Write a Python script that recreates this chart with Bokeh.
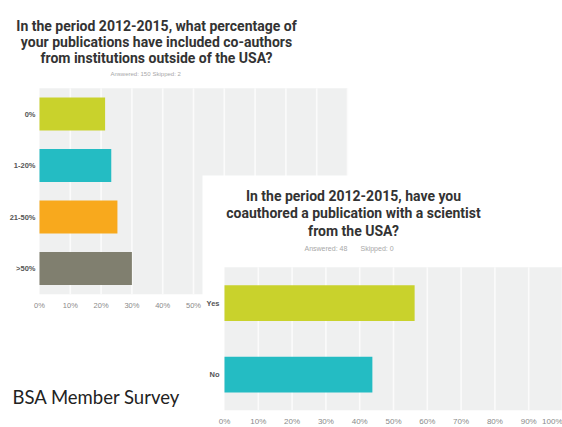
from bokeh.plotting import figure
from bokeh.models import Range1d
from bokeh.core.properties import value
from bokeh.embed import file_html
from bokeh.resources import INLINE

# ---------------- data ----------------
q1_title = ["In the period 2012-2015, what percentage of",
            "your publications have included co-authors",
            "from institutions outside of the USA?"]
q1_answered = "Answered: 150"
q1_skipped = "Skipped: 2"
q1_categories = ["0%", "1-20%", "21-50%", ">50%"]
q1_values = [21.3, 23.3, 25.3, 30.0]

q2_title = ["In the period 2012-2015, have you",
            "coauthored a publication with a scientist",
            "from the USA?"]
q2_answered = "Answered: 48"
q2_skipped = "Skipped: 0"
q2_categories = ["Yes", "No"]
q2_values = [56.25, 43.75]

pct_ticks = [0, 10, 20, 30, 40, 50, 60, 70, 80, 90, 100]
pct_labels = ["0%", "10%", "20%", "30%", "40%", "50%", "60%", "70%", "80%", "90%", "100%"]
caption = "BSA Member Survey"

# ---------------- styles ----------------
palette = ["#c9d22c", "#24bcc3", "#f8a91d", "#807f6f"]
PLOT_BG = "#eff0f0"
GRID = "#fbfbfb"
TITLE_COLOR = "#333333"
TITLE_FONT = value("Roboto")
SANS = value("Liberation Sans")

W, H = 562, 427


def xr(px0, scale):
    return Range1d(start=(0 - px0) / scale, end=(W - px0) / scale)


def yr(py0, scale):
    return Range1d(start=(H - py0) / scale, end=(0 - py0) / scale)


p = figure(width=W, height=H, output_backend="svg", toolbar_location=None,
           x_range=Range1d(0, W), y_range=Range1d(H, 0),
           x_axis_type=None, y_axis_type=None, min_border=0,
           outline_line_color=None, background_fill_color="white",
           border_fill_color="white")
p.grid.visible = False

p.extra_x_ranges = {"x1": xr(39, 3.08), "x2": xr(224, 3.38)}
p.extra_y_ranges = {"y1": yr(113.5, 51.5), "y2": yr(302.5, 71.5)}


def draw_chart(xn, yn, cats, vals, colors, bar_h, cat_off, tick_off, cat_size,
               tick_size, last_right):
    n = len(cats)
    idx = list(range(n))
    p.quad(left=0, right=100, top=-0.5, bottom=n - 0.5, x_range_name=xn,
           y_range_name=yn, fill_color=PLOT_BG, line_color=None)
    p.segment(x0=pct_ticks[1:], x1=pct_ticks[1:], y0=-0.5, y1=n - 0.5,
              x_range_name=xn, y_range_name=yn, line_color=GRID, line_width=1.6)
    p.hbar(y=idx, left=0, right=vals, height=bar_h, fill_color=colors,
           line_color=None, x_range_name=xn, y_range_name=yn)
    p.text(x=0, y=idx, text=cats, x_offset=cat_off, text_align="right",
           text_baseline="middle", text_font=SANS, text_font_style="bold",
           text_font_size=cat_size, text_color="#555555",
           x_range_name=xn, y_range_name=yn)
    t, lab = pct_ticks, pct_labels
    if last_right:
        t, lab = pct_ticks[:-1], pct_labels[:-1]
        p.text(x=pct_ticks[-1:], y=n - 0.5, text=pct_labels[-1:], y_offset=tick_off,
               text_align="right", text_baseline="middle", text_font=SANS,
               text_font_size=tick_size, text_color="#8a8a8a",
               x_range_name=xn, y_range_name=yn)
    p.text(x=t, y=n - 0.5, text=lab, y_offset=tick_off,
           text_align="center", text_baseline="middle", text_font=SANS,
           text_font_size=tick_size, text_color="#8a8a8a",
           x_range_name=xn, y_range_name=yn)


def draw_title(lines, cx, baselines, size):
    p.text(x=[cx] * len(lines), y=baselines, text=lines,
           text_align="center", text_baseline="alphabetic", text_font=TITLE_FONT,
           text_font_style="bold", text_font_size=size, text_color=TITLE_COLOR)


def draw_stats(a, s, xa, xs, ymid, size):
    p.text(x=[xa, xs], y=[ymid] * 2, text=[a, s], text_align="left",
           text_baseline="middle", text_font=SANS, text_font_size=size,
           text_color="#a8a8a8")


# ---- chart 1 (background survey) ----
draw_title(q1_title, 156, [25, 41, 57], "14px")
draw_stats(q1_answered, q1_skipped, 110, 152, 73, "6px")
draw_chart("x1", "y1", q1_categories, q1_values, palette, 0.64, -4, 11,
           "7.5px", "7.5px", False)

# ---- white panel of chart 2 ----
p.quad(left=202, right=W, top=175, bottom=H, fill_color="white",
       line_color=None)

# ---- chart 2 (front survey) ----
draw_title(q2_title, 353, [195, 212.5, 230], "14px")
draw_stats(q2_answered, q2_skipped, 304, 360, 248, "7px")
draw_chart("x2", "y2", q2_categories, q2_values, palette[:2], 0.5, -5, 11,
           "7.5px", "8px", True)

# ---- caption ----
p.text(x=[12], y=[396], text=[caption], text_align="left",
       text_baseline="middle", text_font=value("Lato"), text_font_size="18.5px",
       text_color="#222222")

open("out.html", "w").write(file_html(p, INLINE))
